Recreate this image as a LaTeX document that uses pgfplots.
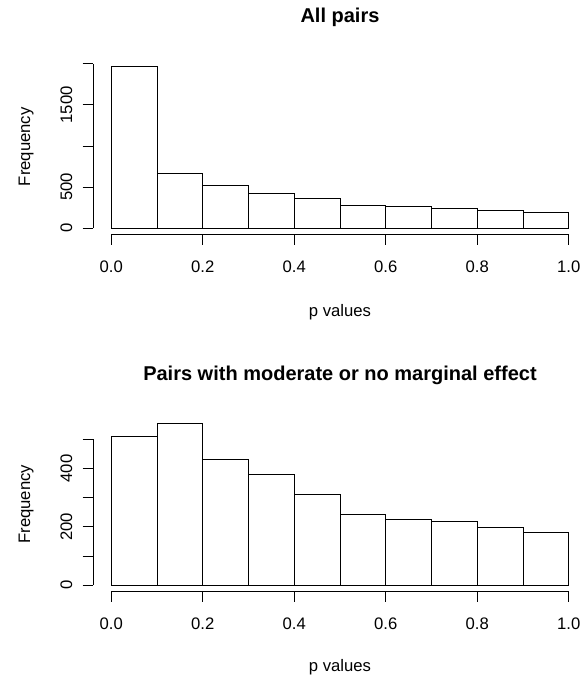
\documentclass[border=0pt]{standalone}
\usepackage{fontspec}
\setmainfont{Liberation Sans}
\usepackage{pgfplots}
\pgfplotsset{compat=1.18}

% R-style histogram frame: axes drawn by hand, ticks outside
\pgfplotsset{rhist/.style={
    scale only axis, width=494pt, anchor=south west,
    xmin=-0.04, xmax=1.04,
    axis x line*=bottom, axis y line*=left,
    axis line style={draw=none},
    tick align=outside, major tick length=10.5pt,
    tick style={black, line width=0.8pt},
    xtick={0,0.2,0.4,0.6,0.8,1},
    xticklabels={0.0,0.2,0.4,0.6,0.8,1.0},
    xticklabel style={anchor=north, inner sep=0pt},
    xticklabel shift=15.5pt,
    yticklabel style={rotate=90, anchor=base, inner sep=0pt},
    yticklabel shift=10.5pt,
    clip=false,
}}

\begin{document}
\begin{tikzpicture}[font=\fontsize{16.67}{20}\selectfont]
\useasboundingbox (0,0) rectangle (580pt,677pt);

% top: all pairs
\begin{axis}[rhist, at={(93pt,442.5pt)}, height=175pt,
    ymin=-78.96, ymax=2052.96,
    ytick={0,500,1000,1500,2000},
    yticklabels={0,500,,1500,}]
  \addplot[ybar interval, draw=black, fill=white, line width=0.8pt] coordinates {
    (0.0,1974) (0.1,669) (0.2,515) (0.3,426) (0.4,365)
    (0.5,280) (0.6,268) (0.7,243) (0.8,219) (0.9,195) (1.0,195)};
  \draw[line width=0.8pt] (axis cs:0,-78.96) -- (axis cs:1,-78.96);
  \draw[line width=0.8pt] (axis cs:-0.04,0) -- (axis cs:-0.04,2000);
\end{axis}

% bottom: moderate or no marginal effect
\begin{axis}[rhist, at={(93pt,85.5pt)}, height=174.6pt,
    ymin=-22.2, ymax=577.2,
    ytick={0,100,200,300,400,500},
    yticklabels={0,,200,,400,}]
  \addplot[ybar interval, draw=black, fill=white, line width=0.8pt] coordinates {
    (0.0,510) (0.1,555) (0.2,431) (0.3,381) (0.4,310)
    (0.5,243) (0.6,227) (0.7,220) (0.8,198) (0.9,180) (1.0,180)};
  \draw[line width=0.8pt] (axis cs:0,-22.2) -- (axis cs:1,-22.2);
  \draw[line width=0.8pt] (axis cs:-0.04,0) -- (axis cs:-0.04,500);
\end{axis}

% titles and axis labels
\node[anchor=base, font=\bfseries\fontsize{20}{24}\selectfont] at (340pt,654pt) {All pairs};
\node[anchor=base, font=\bfseries\fontsize{20}{24}\selectfont] at (340pt,296pt) {Pairs with moderate or no marginal effect};
\node[anchor=base] at (340pt,360.3pt) {p values};
\node[anchor=base] at (340pt,5.3pt) {p values};
\node[anchor=base, rotate=90] at (30pt,530.2pt) {Frequency};
\node[anchor=base, rotate=90] at (30pt,172.8pt) {Frequency};
\end{tikzpicture}
\end{document}
